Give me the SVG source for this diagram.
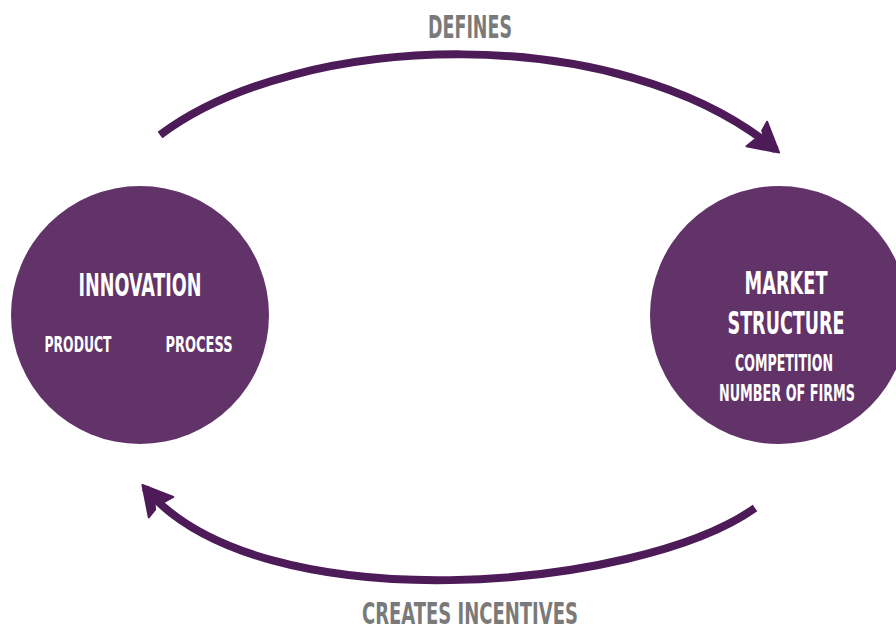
<svg xmlns="http://www.w3.org/2000/svg" width="896" height="630" viewBox="0 0 896 630">
<defs>
<style>
.node{fill:#613369}
.t{font-family:"DejaVu Sans Condensed","DejaVu Sans",sans-serif;font-weight:bold;fill:#ffffff;text-anchor:middle}
.lbl{font-family:"DejaVu Sans Condensed","DejaVu Sans",sans-serif;font-weight:bold;fill:#7a7a7a;text-anchor:middle}
.arc{fill:none;stroke:#4d1b58;stroke-width:8;stroke-linecap:butt}
</style>
<marker id="ah" markerUnits="userSpaceOnUse" markerWidth="50" markerHeight="50" refX="0" refY="0" viewBox="-35 -25 50 50" orient="auto" overflow="visible">
<path d="M4,0 L-25,-16 L-23,-6 L-14,0 L-23,6 L-25,16 Z" fill="#4d1b58" stroke="#4d1b58" stroke-width="2" stroke-linejoin="round"/>
</marker>
</defs>
<rect width="896" height="630" fill="#ffffff"/>
<g id="connectors">
<path class="arc" d="M160,135 C300,30 620,20 776,150" marker-end="url(#ah)"/>
<path class="arc" d="M755,508 C640,590 260,625 145,488" marker-end="url(#ah)"/>
</g>
<g id="label-defines"><text class="lbl" transform="translate(470,38) scale(1,1.3)" font-size="24" textLength="84" lengthAdjust="spacingAndGlyphs">DEFINES</text></g>
<g id="label-creates"><text class="lbl" transform="translate(470,624) scale(1,1.3)" font-size="23.5" textLength="216" lengthAdjust="spacingAndGlyphs">CREATES INCENTIVES</text></g>
<g id="innovation">
<circle class="node" cx="140" cy="315" r="129"/>
<text class="t" transform="translate(140,296) scale(1,1.3)" font-size="24" textLength="123" lengthAdjust="spacingAndGlyphs">INNOVATION</text>
<text class="t" transform="translate(78,352) scale(1,1.3)" font-size="16.5" textLength="67" lengthAdjust="spacingAndGlyphs">PRODUCT</text>
<text class="t" transform="translate(199,352) scale(1,1.3)" font-size="16.5" textLength="67" lengthAdjust="spacingAndGlyphs">PROCESS</text>
</g>
<g id="market-structure">
<circle class="node" cx="779" cy="315" r="129"/>
<text class="t" transform="translate(786,294) scale(1,1.3)" font-size="24" textLength="83" lengthAdjust="spacingAndGlyphs">MARKET</text>
<text class="t" transform="translate(786,334) scale(1,1.3)" font-size="24" textLength="117" lengthAdjust="spacingAndGlyphs">STRUCTURE</text>
<text class="t" transform="translate(784,371) scale(1,1.3)" font-size="17" textLength="98" lengthAdjust="spacingAndGlyphs">COMPETITION</text>
<text class="t" transform="translate(787,401) scale(1,1.3)" font-size="17" textLength="136" lengthAdjust="spacingAndGlyphs">NUMBER OF FIRMS</text>
</g>
</svg>
